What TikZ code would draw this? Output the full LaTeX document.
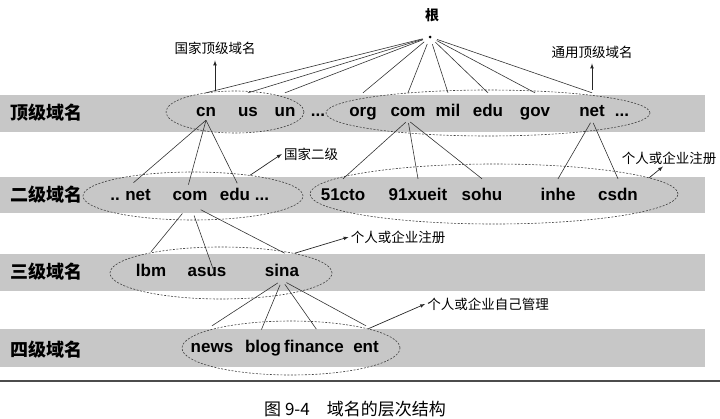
\documentclass[tikz,border=0pt]{standalone}
\usepackage{fontspec}
\setmainfont{Liberation Sans}
\newfontfamily\cjk{Noto Sans CJK SC}
\usetikzlibrary{shapes.geometric}

\begin{document}
\begin{tikzpicture}[x=1pt,y=-1pt]
\tikzstyle{every node}+=[inner sep=0pt]
\tikzstyle{band}=[fill=black!22]
\tikzstyle{word}=[anchor=base, font=\fontsize{17}{17}\selectfont\bfseries, text depth=4pt]
\tikzstyle{wone}=[word, text height=23pt]
\tikzstyle{wtwo}=[word, text height=21pt]
\tikzstyle{wthree}=[word, text height=24pt]
\tikzstyle{wfour}=[word, text height=26pt]
\tikzstyle{level}=[font=\fontsize{18}{18}\selectfont\cjk\bfseries]
\tikzstyle{note}=[font=\fontsize{13.5}{14}\selectfont\cjk, inner sep=2pt]
\tikzstyle{group}=[draw=black!75, ellipse, dash pattern=on 2pt off 1.5pt, line width=0.6pt]
\tikzstyle{link}=[draw=black!80, line width=0.6pt]
\tikzstyle{tag}=[->, >=latex, draw=black!85, line width=0.7pt]
\useasboundingbox (0,0) rectangle (720,418);
\fill[band] (0,95) rectangle (705,132);
\fill[band] (0,177) rectangle (705,213);
\fill[band] (0,254) rectangle (705,291);
\fill[band] (0,329) rectangle (705,367);
\draw[line width=2pt, black!70] (0,381) -- (720,381);
\node[level] (lvone) at (46,113) {顶级域名};
\node[level] (lvtwo) at (46,195) {二级域名};
\node[level] (lvthree) at (46,272) {三级域名};
\node[level] (lvfour) at (46,350) {四级域名};
\node[font=\fontsize{14}{14}\selectfont\cjk\bfseries] (rootname) at (432,15) {根};
\node[circle, fill=black, minimum size=3pt, outer sep=6pt] (root) at (430,37) {};
\node[wone] (cn) at (206,116) {cn};
\node[wone] (us) at (248,116) {us};
\node[wone] (un) at (285,116) {un};
\node[wone] (moreA) at (318,116) {...};
\node[wone] (org) at (363,116) {org};
\node[wone] (com) at (408,116) {com};
\node[wone] (mil) at (448,116) {mil};
\node[wone] (edu) at (488,116) {edu};
\node[wone] (gov) at (535,116) {gov};
\node[wone] (net) at (592,116) {net};
\node[wone] (moreB) at (622,116) {...};
\node[group, minimum width=138pt, minimum height=42pt] (tldA) at (235,112) {};
\node[group, minimum width=324pt, minimum height=46pt] (tldB) at (488,113) {};
\node[wtwo] (dotstwo) at (115,200) {..};
\node[wtwo] (nettwo) at (138,200) {net};
\node[wtwo] (comtwo) at (190,200) {com};
\node[wtwo] (edutwo) at (235,200) {edu};
\node[wtwo] (moretwo) at (262,200) {...};
\node[wtwo] (cto) at (343,200) {51cto};
\node[wtwo] (xueit) at (418,200) {91xueit};
\node[wtwo] (sohu) at (482,200) {sohu};
\node[wtwo] (inhe) at (558,200) {inhe};
\node[wtwo] (csdn) at (618,200) {csdn};
\node[group, minimum width=220pt, minimum height=48pt] (sldA) at (193,196) {};
\node[group, minimum width=368pt, minimum height=60pt] (sldB) at (494,194) {};
\node[wthree] (lbm) at (151,276) {lbm};
\node[wthree] (asus) at (207,276) {asus};
\node[wthree] (sina) at (282,276) {sina};
\node[group, minimum width=222pt, minimum height=52pt] (thirdgrp) at (221,273) {};
\node[wfour] (news) at (212,352) {news};
\node[wfour] (blog) at (263,352) {blog};
\node[wfour] (finance) at (314,352) {finance};
\node[wfour] (ent) at (366,352) {ent};
\node[group, minimum width=218pt, minimum height=54pt] (fourthgrp) at (291,348) {};
\draw[link] (root) -- (cn.north);
\draw[link] (root) -- (us.north);
\draw[link] (root) -- (un.north);
\draw[link] (root) -- (org.north);
\draw[link] (root) -- (com.north);
\draw[link] (root) -- (mil.north);
\draw[link] (root) -- (edu.north);
\draw[link] (root) -- (gov.north);
\draw[link] (root) -- (net.north);
\draw[link, shorten >=-6pt] (cn.south) -- (nettwo.north);
\draw[link, shorten >=-6pt] (cn.south) -- (comtwo.north);
\draw[link, shorten >=-5pt] (cn.south) -- (edutwo.north);
\draw[link, shorten <=3pt] (com.south) -- (cto.north);
\draw[link, shorten <=3pt] (com.south) -- (xueit.north);
\draw[link, shorten <=3pt] (com.south) -- (sohu.north);
\draw[link, shorten <=3pt] (net.south) -- (inhe.north);
\draw[link, shorten <=3pt] (net.south) -- (csdn.north);
\draw[link, shorten <=12pt] (comtwo.south) -- (lbm.north);
\draw[link, shorten <=12pt, shorten >=-18pt] (comtwo.south) -- (asus.north);
\draw[link, shorten <=12pt, shorten >=-3pt] (comtwo.south) -- (sina.north);
\draw[link, shorten <=5pt] (sina.south) -- (news.north);
\draw[link, shorten <=5pt, shorten >=-4pt] (sina.south) -- (blog.north);
\draw[link, shorten <=5pt, shorten >=-4pt] (sina.south) -- (finance.north);
\draw[link, shorten <=5pt] (sina.south) -- (ent.north);
\node[note] (ctld) at (215,48) {国家顶级域名};
\node[note] (gtld) at (592,52) {通用顶级域名};
\node[note] (cntwo) at (311,154) {国家二级};
\node[note] (regtwo) at (669,158) {个人或企业注册};
\node[note] (regthree) at (398,237) {个人或企业注册};
\node[note] (ownfour) at (488,304) {个人或企业自己管理};
\draw[tag, shorten >=4pt] (tldA.north -| ctld) -- (ctld);
\draw[tag, shorten >=3pt] (gtld |- tldB.north) -- (gtld);
\draw[tag] (sldA.20) -- (cntwo.west);
\draw[tag] (sldB.6) -- ([xshift=-6pt]regtwo.south);
\draw[tag] (thirdgrp.15) -- (regthree.west);
\draw[tag] (fourthgrp.14) -- (ownfour.west);
\node[font=\fontsize{17}{17}\selectfont\cjk] (caption) at (355,409) {图 9-4\hspace{1em}域名的层次结构};
\end{tikzpicture}
\end{document}
